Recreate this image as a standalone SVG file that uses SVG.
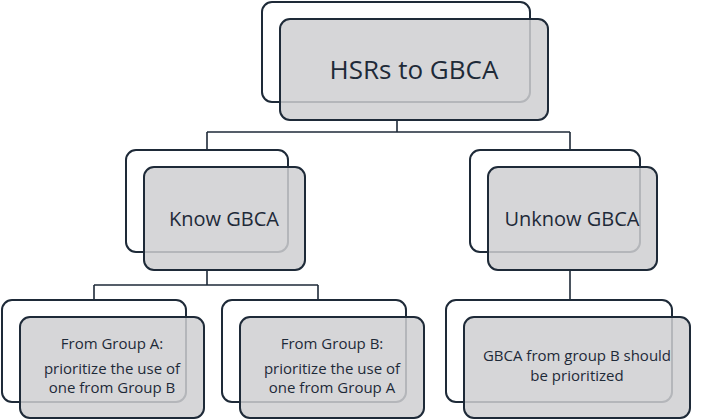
<svg xmlns="http://www.w3.org/2000/svg" width="709" height="420" viewBox="0 0 709 420">
<style>
.b{fill:#fff;stroke:#1e2a38;stroke-width:2}
.f{fill:#cfcfd1;fill-opacity:0.85;stroke:#1e2a38;stroke-width:2}
.c{fill:none;stroke:#1e2a38;stroke-width:1.6}
text{font-family:"Open Sans","Noto Sans",sans-serif;fill:#1e2a38;text-anchor:middle}
.l{font-size:26px}.m{font-size:20px}.s{font-size:15px}
</style>
<rect width="709" height="420" fill="#fff"/>
<g id="connectors">
<path class="c" d="M397 120V132M207 132H570M207 132V150M570 132V150"/>
<path class="c" d="M207 270V285M94 285H318M94 285V300M318 285V300"/>
<path class="c" d="M570 270V300"/>
</g>
<g id="n1"><rect class="b" x="262" y="2" width="268" height="100" rx="10"/><rect class="f" x="280" y="19" width="268" height="101" rx="10"/><text class="l" x="414" y="79">HSRs to GBCA</text></g>
<g id="n2"><rect class="b" x="126" y="150" width="162" height="102" rx="10"/><rect class="f" x="144" y="167" width="161" height="103" rx="10"/><text class="m" x="224" y="226">Know GBCA</text></g>
<g id="n3"><rect class="b" x="470" y="150" width="170" height="102" rx="10"/><rect class="f" x="488" y="167" width="169" height="103" rx="10"/><text class="m" x="572" y="226">Unknow GBCA</text></g>
<g id="n4"><rect class="b" x="2" y="300" width="184" height="102" rx="10"/><rect class="f" x="20" y="317" width="184" height="101" rx="10"/><text class="s" x="112" y="349">From Group A:</text><text class="s" x="112" y="374">prioritize the use of</text><text class="s" x="112" y="393">one from Group B</text></g>
<g id="n5"><rect class="b" x="222" y="300" width="184" height="102" rx="10"/><rect class="f" x="240" y="317" width="184" height="101" rx="10"/><text class="s" x="332" y="349">From Group B:</text><text class="s" x="332" y="374">prioritize the use of</text><text class="s" x="332" y="393">one from Group A</text></g>
<g id="n6"><rect class="b" x="446" y="300" width="226" height="102" rx="10"/><rect class="f" x="464" y="317" width="226" height="101" rx="10"/><text class="s" x="577" y="361">GBCA from group B should</text><text class="s" x="577" y="381">be prioritized</text></g>
</svg>
